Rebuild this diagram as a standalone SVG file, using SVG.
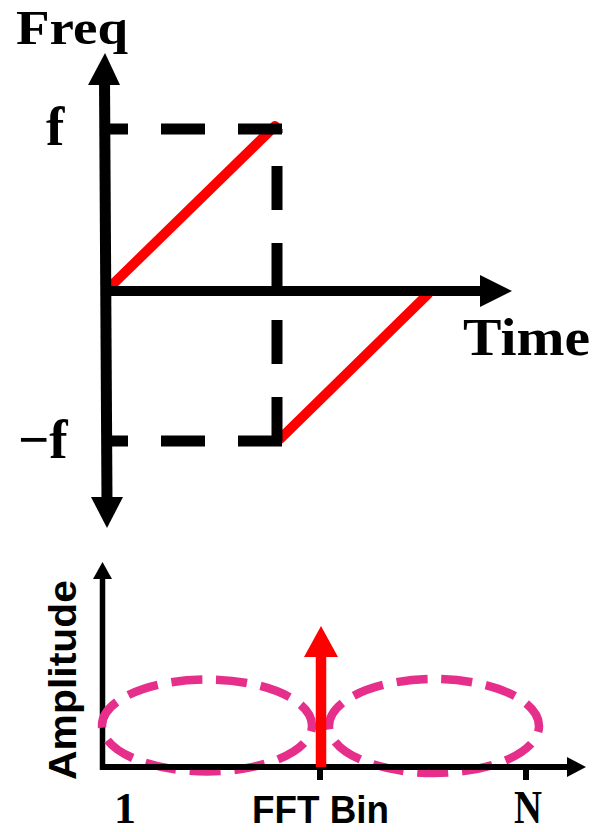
<svg xmlns="http://www.w3.org/2000/svg" width="596" height="832" viewBox="0 0 596 832">
  <style>
    .serif { font-family: "Liberation Serif", "DejaVu Serif", serif; font-weight: bold; fill: #000; }
    .sans { font-family: "Liberation Sans", "DejaVu Sans", sans-serif; font-weight: bold; fill: #000; }
    .axis { stroke: #000; fill: none; }
    .dash { stroke: #000; stroke-width: 11; stroke-dasharray: 44 33; fill: none; }
    .chirp { stroke: #ff0000; stroke-width: 10; stroke-linecap: round; fill: none; }
    .lobe { stroke: #e62e8b; stroke-width: 8.5; stroke-dasharray: 31 13.8; stroke-dashoffset: 25; fill: none; }
  </style>
  <rect width="596" height="832" fill="#fff"/>

  <g id="chirps">
    <line class="chirp" x1="110" y1="287" x2="275" y2="126"/>
    <line class="chirp" x1="280" y1="439" x2="428" y2="294"/>
  </g>

  <g id="guides">
    <line class="dash" x1="282" y1="129" x2="104" y2="129"/>
    <line class="dash" x1="277" y1="441" x2="277" y2="129"/>
    <line class="dash" x1="282" y1="441" x2="106" y2="441"/>
  </g>

  <g id="top-axes">
    <line class="axis" stroke-width="11" x1="104.5" y1="80" x2="107" y2="500"/>
    <polygon points="105,53 88,85 120,85" fill="#000"/>
    <polygon points="107,528 91,497 123,497" fill="#000"/>
    <line class="axis" stroke-width="10" x1="101" y1="291" x2="484" y2="291"/>
    <polygon points="512,291 480,275 480,307" fill="#000"/>
  </g>

  <g id="top-labels">
    <text class="serif" x="16" y="44" font-size="48" textLength="112" lengthAdjust="spacingAndGlyphs">Freq</text>
    <text class="serif" x="46" y="145" font-size="55">f</text>
    <text class="serif" x="18" y="458" font-size="55">−f</text>
    <text class="serif" x="463" y="355" font-size="53" textLength="127" lengthAdjust="spacingAndGlyphs">Time</text>
  </g>

  <g id="bottom-y-axis">
    <line class="axis" stroke-width="5.5" x1="102.5" y1="575" x2="102.5" y2="770"/>
    <polygon points="102.5,562 93,579 112,579" fill="#000"/>
  </g>

  <g id="lobes">
    <ellipse id="lobe-left" class="lobe" cx="207" cy="725.5" rx="105" ry="46"/>
    <ellipse id="lobe-right" class="lobe" cx="434" cy="726" rx="105" ry="47"/>
  </g>

  <g id="bottom-x-axis">
    <line class="axis" stroke-width="6" x1="100" y1="767" x2="570" y2="767"/>
    <polygon points="586,767 567,757 567,777" fill="#000"/>
    <line class="axis" stroke-width="6" x1="320" y1="767" x2="320" y2="780"/>
    <line class="axis" stroke-width="6" x1="526" y1="767" x2="526" y2="780"/>
  </g>

  <g id="peak">
    <line stroke="#ff0000" stroke-width="10.5" x1="321" y1="767" x2="321" y2="652"/>
    <polygon points="321,626 304,657 338,657" fill="#ff0000"/>
  </g>

  <g id="bottom-labels">
    <text class="sans" transform="translate(76,780) rotate(-90)" x="0" y="0" font-size="39" textLength="200" lengthAdjust="spacingAndGlyphs">Amplitude</text>
    <text class="serif" x="114" y="823" font-size="44">1</text>
    <text class="sans" x="252" y="823" font-size="38" textLength="137" lengthAdjust="spacingAndGlyphs">FFT Bin</text>
    <text class="serif" x="514" y="823" font-size="46" textLength="28" lengthAdjust="spacingAndGlyphs">N</text>
  </g>
</svg>
